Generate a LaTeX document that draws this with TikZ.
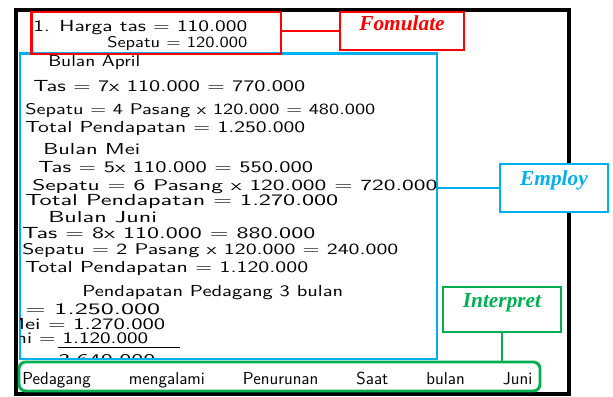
\documentclass[tikz,border=0pt]{standalone}
\usepackage{fontspec}
\usepackage{graphicx}
\newfontfamily\tagfont{Liberation Serif}
\usetikzlibrary{positioning, fit}

\definecolor{fred}{HTML}{FF0000}
\definecolor{fblue}{HTML}{00B0F0}
\definecolor{fgreen}{HTML}{00B050}

% one pixel of the scanned sheet
\newlength{\pxunit}\setlength{\pxunit}{0.75pt}
% handwritten line, squeezed to the width it takes on the sheet
\newcommand{\hw}[2]{\resizebox{#1\pxunit}{8.3pt}{#2}}

\begin{document}
\begin{tikzpicture}[
x=0.75pt, y=-0.75pt,
font=\sffamily,
sheet/.style={draw, line width=3pt, inner sep=0pt},
stage/.style={draw, line width=2.2pt, inner sep=0pt},
tag/.style={draw, fill=white, line width=1pt, inner sep=0pt, font=\tagfont\bfseries\itshape\fontsize{16}{18}\selectfont},
hand/.style={anchor=base west, inner sep=0pt},
link/.style={line width=2pt}
]
\useasboundingbox (0,0) rectangle (613,396);

% --- the answer sheet ---
\node[sheet, fit={(15.5,9.5) (569,394)}] (paper) {};

% --- the three stages ---
\node[stage, draw=fblue, fit={(20,53.5) (437,359)}] (employ) {};
\node[stage, draw=fred, fit={(31.5,12) (281,54)}] (formulate) {};

% --- handwritten answer ---
\node[hand] (harga) at (33,31) {\hw{214}{1. Harga tas = 110.000}};
\node[hand] (hsepatu) at (107,47) {\hw{140}{Sepatu = 120.000}};
\node[hand] (april) at (48,66) {\hw{92}{Bulan April}};
\node[hand] (tas1) at (33,91) {\hw{272}{Tas = 7x 110.000 = 770.000}};
\node[hand] (sepatu1) at (25,114) {\hw{350}{Sepatu = 4 Pasang x 120.000 = 480.000}};
\node[hand] (total1) at (25,132) {\hw{280}{Total Pendapatan = 1.250.000}};
\node[hand] (mei) at (43,154) {\hw{97}{Bulan Mei}};
\node[hand] (tas2) at (38,172) {\hw{275}{Tas = 5x 110.000 = 550.000}};
\node[hand] (sepatu2) at (32,190) {\hw{405}{Sepatu = 6 Pasang x 120.000 = 720.000}};
\node[hand] (total2) at (25,205) {\hw{313}{Total Pendapatan = 1.270.000}};
\node[hand] (juni) at (48,222) {\hw{109}{Bulan Juni}};
\node[hand] (tas3) at (22,238) {\hw{293}{Tas = 8x 110.000 = 880.000}};
\node[hand] (sepatu3) at (22,254) {\hw{376}{Sepatu = 2 Pasang x 120.000 = 240.000}};
\node[hand] (total3) at (25,272) {\hw{283}{Total Pendapatan = 1.120.000}};
\node[hand] (tigabulan) at (82,296) {\hw{261}{Pendapatan Pedagang 3 bulan}};

\begin{scope}
\clip (20,298) rectangle (437,357.5);
\node[hand] (sumapril) at (-35,314) {\hw{195}{April = 1.250.000}};
\node[hand] (summei) at (5,329) {\hw{160}{Mei = 1.270.000}};
\node[hand] (sumjuni) at (-5,343) {\hw{153}{Juni = 1.120.000}};
\node[hand] (jumlah) at (58,365) {\hw{97}{3.640.000}};
\end{scope}
\draw[line width=0.6pt] (58,347) -- (180,347);

% --- conclusion ---
\node[stage, draw=fgreen, rounded corners=5pt, fit={(19,362) (540,391)}] (interpret) {};
\node[hand] (simpulan) at (22,384) {\fontsize{13}{15}\selectfont\makebox[510\pxunit][s]{Pedagang mengalami Penurunan Saat bulan Juni}};

% --- labels ---
\node[tag, draw=fred, text=fred, fit={(340,12) (464,50)}] (fomtag) {Fomulate};
\node[tag, draw=fblue, text=fblue, fit={(500,164) (608,212)}] (emptag) {Employ};
\node[tag, draw=fgreen, text=fgreen, fit={(443,287) (561,332)}] (inttag) {Interpret};

\draw[link, fred] (fomtag.west -| formulate.east) -- (fomtag.west);
\draw[link, fblue] (emptag.west -| employ.east) -- (emptag.west);
\draw[link, fgreen] (inttag.south) -- (inttag.south |- interpret.north);

\end{tikzpicture}
\end{document}
